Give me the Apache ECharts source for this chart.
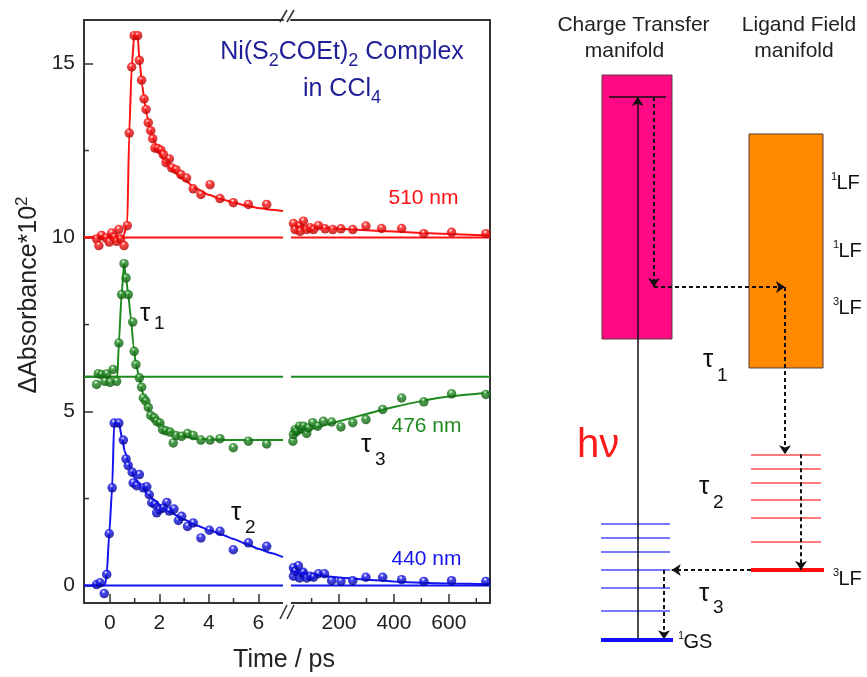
<!DOCTYPE html>
<html>
<head>
<meta charset="utf-8">
<script src="https://cdn.jsdelivr.net/npm/echarts@6/dist/echarts.min.js"></script>
<style>
  html, body { margin: 0; padding: 0; background: #fff; }
  #chart { width: 867px; height: 677px; }
</style>
</head>
<body>
<div id="chart"></div>
<script>
// ---------- transient absorption traces (ΔA*10^2, offsets included) ----------
// early-time window, time in ps
const red510Early = [[-0.54,9.96],[-0.45,9.77],[-0.34,10.06],[-0.16,9.99],[-0.03,9.87],[0.07,10.13],[0.18,10.01],[0.27,9.89],[0.36,10.23],[0.43,9.96],[0.57,9.77],[0.70,10.34],[0.78,13.0],[0.88,14.9],[0.98,15.8],[1.12,15.8],[1.19,15.09],[1.28,14.52],[1.38,13.98],[1.46,13.68],[1.55,13.30],[1.65,13.07],[1.73,12.84],[1.82,12.57],[1.93,12.56],[2.06,12.51],[2.16,12.38],[2.27,12.15],[2.40,12.26],[2.50,12.0],[2.67,11.95],[2.87,11.81],[3.10,11.71],[3.37,11.40],[3.68,11.24],[4.05,11.52],[4.45,11.12],[4.99,11.0],[5.60,10.95],[6.34,10.95]];
const red510EarlyFit = [[-1.05,10],[0.55,10.05],[0.7,10.4],[0.78,13.0],[0.88,14.9],[0.98,15.8],[1.12,15.8],[1.2,15.05],[1.3,14.4],[1.4,13.9],[1.5,13.5],[1.6,13.2],[1.8,12.75],[2.0,12.42],[2.25,12.15],[2.5,11.95],[3.0,11.65],[3.5,11.4],[4.0,11.23],[4.5,11.1],[5.0,11.01],[5.5,10.92],[6.0,10.85],[6.5,10.8],[7.0,10.76]];
const green476Early = [[-0.54,5.78],[-0.47,6.09],[-0.34,6.06],[-0.20,5.87],[-0.13,6.08],[0,5.84],[0.13,6.21],[0.27,5.87],[0.36,6.97],[0.47,8.36],[0.57,9.25],[0.65,8.84],[0.74,8.36],[0.92,7.57],[0.98,6.73],[1.05,6.35],[1.19,5.97],[1.28,5.70],[1.35,5.39],[1.45,5.30],[1.55,5.12],[1.65,4.89],[1.79,4.82],[1.89,4.72],[2.02,4.67],[2.13,4.48],[2.25,4.45],[2.43,4.41],[2.56,4.10],[2.67,4.31],[2.90,4.29],[3.14,4.37],[3.37,4.31],[3.68,4.18],[4.05,4.18],[4.45,4.22],[4.99,3.96],[5.60,4.15],[6.34,4.07]];
const green476EarlyFit = [[-1.05,6.0],[0.3,6.0],[0.36,6.97],[0.47,8.36],[0.57,9.25],[0.65,8.84],[0.74,8.36],[0.85,7.65],[0.95,6.9],[1.05,6.35],[1.2,5.95],[1.3,5.6],[1.4,5.35],[1.5,5.17],[1.6,5.0],[1.8,4.8],[2.0,4.65],[2.3,4.48],[2.6,4.37],[3.0,4.28],[3.5,4.22],[4.0,4.2],[5.0,4.18],[6.0,4.18],[7.0,4.18]];
const blue440Early = [[-0.54,0.03],[-0.40,0.08],[-0.23,-0.23],[-0.13,0.32],[-0.03,1.49],[0.09,2.81],[0.17,4.67],[0.36,4.67],[0.54,4.18],[0.65,3.64],[0.74,3.45],[0.90,3.26],[0.94,2.95],[1.08,2.87],[1.19,3.19],[1.35,2.81],[1.49,2.84],[1.59,2.61],[1.69,2.38],[1.82,2.33],[1.89,2.09],[2.00,2.18],[2.16,2.23],[2.30,2.39],[2.40,2.14],[2.59,2.20],[2.77,1.87],[2.90,1.99],[3.14,1.70],[3.37,1.80],[3.68,1.37],[4.02,1.59],[4.45,1.56],[4.99,1.03],[5.60,1.23],[6.34,1.13]];
const blue440EarlyFit = [[-1.05,0],[-0.2,0.02],[-0.13,0.32],[-0.03,1.49],[0.09,2.81],[0.17,4.67],[0.36,4.67],[0.5,4.2],[0.6,3.85],[0.8,3.42],[1.0,3.1],[1.25,2.88],[1.5,2.65],[1.75,2.48],[2.0,2.32],[2.5,2.08],[3.0,1.9],[3.5,1.73],[4.0,1.6],[4.5,1.47],[5.0,1.34],[5.5,1.2],[6.0,1.06],[6.5,0.94],[7.0,0.82]];

// late-time window, time in ps
const red510Late = [[34,10.40],[40,10.23],[56,10.33],[58,10.18],[70,10.47],[82,10.23],[95,10.28],[107,10.23],[125,10.34],[149,10.25],[177,10.23],[207,10.25],[250,10.23],[298,10.33],[355,10.26],[428,10.26],[509,10.11],[610,10.15],[735,10.11]];
const red510LateFit = [[28,10.33],[100,10.3],[200,10.25],[300,10.21],[400,10.17],[500,10.13],[600,10.1],[750,10.06]];
const green476Late = [[32,4.15],[34,4.34],[40,4.48],[46,4.43],[56,4.58],[64,4.50],[70,4.58],[82,4.37],[88,4.53],[104,4.68],[122,4.58],[143,4.72],[173,4.70],[207,4.56],[250,4.68],[298,4.77],[359,5.06],[428,5.39],[509,5.28],[610,5.51],[735,5.49]];
const green476LateFit = [[28,4.32],[100,4.5],[200,4.72],[300,4.93],[400,5.13],[500,5.3],[600,5.43],[750,5.55]];
const blue440Late = [[34,0.51],[34,0.27],[40,0.41],[52,0.57],[56,0.22],[64,0.34],[70,0.38],[82,0.22],[95,0.27],[107,0.24],[125,0.34],[147,0.34],[173,0.14],[207,0.12],[250,0.14],[298,0.24],[359,0.24],[428,0.17],[509,0.12],[610,0.14],[735,0.12]];
const blue440LateFit = [[28,0.42],[100,0.32],[200,0.23],[300,0.17],[400,0.12],[500,0.08],[600,0.06],[750,0.04]];

// zero levels of the offset traces
const base510 = 10, base476 = 6, base440 = 0;

// axis ranges and ticks
const X0_MIN = -1.05, X0_MAX = 7;
const X1_MIN = 25, X1_MAX = 750;
const Y_MIN = -0.5, Y_MAX = 16.25;
const xMajor0 = [0, 2, 4, 6], xMinor0 = [1, 3, 5];
const xMajor1 = [200, 400, 600], xMinor1 = [100, 300, 500, 700];
const yMajor = [0, 5, 10, 15], yMinor = [2.5, 7.5, 12.5];

// ---------- energy-level scheme (arbitrary energy units) ----------
const ctBand = [14, 37.33, 53.5, 97.5];            // [xFrom, xTo, eLow, eHigh]
const lfBand = [63, 87.67, 48.67, 87.67];
const ctExcited = { e: 93.83, x: [16.33, 35.33] };
const ctVibLevels = [22.72, 20.38, 18.12, 15, 12.12, 8.17];
const ctVibSpan = [13.67, 36.67];
const lfVibLevels = [34.28, 31.83, 29.55, 26.72, 23.72, 19.72];
const lfVibSpan = [63.67, 87];
const gsLevel = { e: 3.45, x: [13.67, 37.67] };
const lf3Level = { e: 15, x: [63.67, 88] };
const pumpArrow = [[25.9, 3.45], [25.9, 93.83]];
const relaxArrows = [
  [[31.33, 93.83], [31.33, 62.17]],
  [[31.33, 62.17], [75, 62.17]],
  [[75, 62.17], [75, 34.28]],
  [[80.33, 34.28], [80.33, 15]],
  [[63.67, 15], [37.23, 15]],
  [[34.67, 15], [34.67, 3.45]]
];

const FONT = '"Liberation Sans", Arial, Helvetica, sans-serif';
const AX = '#333333';
const RED = '#ff1212', GREEN = '#1f8a1f', BLUE = '#1414ee';

function ball(c, dark) {
  return {
    type: 'radial', x: 0.42, y: 0.3, r: 0.7,
    colorStops: [
      { offset: 0, color: '#ffffff' },
      { offset: 0.3, color: c },
      { offset: 1, color: dark }
    ]
  };
}

function trace(color, dark, early, earlyFit, late, lateFit, base) {
  const lineCommon = { type: 'line', showSymbol: false, symbol: 'none', z: 2, silent: true };
  return [
    Object.assign({}, lineCommon, { xAxisIndex: 0, yAxisIndex: 0, data: [[X0_MIN, base], [X0_MAX, base]], lineStyle: { color, width: 2 } }),
    Object.assign({}, lineCommon, { xAxisIndex: 0, yAxisIndex: 0, data: earlyFit, smooth: 0.2, smoothMonotone: 'x', lineStyle: { color, width: 2 } }),
    { type: 'scatter', xAxisIndex: 0, yAxisIndex: 0, data: early, symbolSize: 9.5, z: 3, itemStyle: { color: ball(color, dark) } },
    Object.assign({}, lineCommon, { xAxisIndex: 1, yAxisIndex: 1, data: [[X1_MIN, base], [X1_MAX, base]], lineStyle: { color, width: 2 } }),
    Object.assign({}, lineCommon, { xAxisIndex: 1, yAxisIndex: 1, data: lateFit, smooth: 0.2, lineStyle: { color, width: 2 } }),
    { type: 'scatter', xAxisIndex: 1, yAxisIndex: 1, data: late, symbolSize: 9.5, z: 3, itemStyle: { color: ball(color, dark) } }
  ];
}

// short inward ticks between the labelled ones
function minorTicks(xIdx, yIdx, values, vertical, fixed) {
  return {
    type: 'custom', xAxisIndex: xIdx, yAxisIndex: yIdx, silent: true, z: 4,
    data: values.map(v => [v]),
    renderItem: (params, api) => {
      const v = api.value(0);
      const p = vertical ? api.coord([v, fixed]) : api.coord([fixed, v]);
      const shape = vertical
        ? { x1: p[0], y1: p[1], x2: p[0], y2: p[1] - 5 }
        : { x1: p[0], y1: p[1], x2: p[0] + 5, y2: p[1] };
      return { type: 'line', shape, style: { stroke: AX, lineWidth: 1.5 } };
    }
  };
}

function bandSeries(band, color) {
  return {
    type: 'custom', xAxisIndex: 4, yAxisIndex: 2, silent: true, z: 1,
    data: [band],
    renderItem: (params, api) => {
      const p0 = api.coord([api.value(0), api.value(3)]);
      const p1 = api.coord([api.value(1), api.value(2)]);
      return {
        type: 'rect',
        shape: { x: p0[0], y: p0[1], width: p1[0] - p0[0], height: p1[1] - p0[1] },
        style: { fill: color, stroke: '#5a3a3a', lineWidth: 1 }
      };
    }
  };
}

function levelSeries(levels, span, color, width) {
  return {
    type: 'lines', coordinateSystem: 'cartesian2d', xAxisIndex: 4, yAxisIndex: 2,
    silent: true, z: 3, symbol: 'none',
    lineStyle: { color, width, opacity: 1 },
    data: levels.map(e => ({ coords: [[span[0], e], [span[1], e]] }))
  };
}

const series = [].concat(
  trace(RED, '#b00000', red510Early, red510EarlyFit, red510Late, red510LateFit, base510),
  trace(GREEN, '#0c550c', green476Early, green476EarlyFit, green476Late, green476LateFit, base476),
  trace(BLUE, '#00008a', blue440Early, blue440EarlyFit, blue440Late, blue440LateFit, base440),
  [
    minorTicks(0, 0, yMinor, false, X0_MIN),
    minorTicks(0, 0, xMinor0, true, Y_MIN),
    minorTicks(1, 1, xMinor1, true, Y_MIN),
    bandSeries(ctBand, '#ff0a84'),
    bandSeries(lfBand, '#ff8a00'),
    levelSeries(ctVibLevels, ctVibSpan, '#4a4aff', 1.5),
    levelSeries(lfVibLevels, lfVibSpan, '#ff5050', 1.5),
    levelSeries([gsLevel.e], gsLevel.x, '#1010ff', 4),
    levelSeries([lf3Level.e], lf3Level.x, '#ff1010', 4),
    levelSeries([ctExcited.e], ctExcited.x, '#111111', 1.5),
    {
      type: 'lines', coordinateSystem: 'cartesian2d', xAxisIndex: 4, yAxisIndex: 2,
      silent: true, z: 5, symbol: ['none', 'arrow'], symbolSize: 9,
      lineStyle: { color: '#111', width: 1.5, opacity: 1 },
      data: [{ coords: pumpArrow }]
    },
    {
      type: 'lines', coordinateSystem: 'cartesian2d', xAxisIndex: 4, yAxisIndex: 2,
      silent: true, z: 5, symbol: ['none', 'arrow'], symbolSize: 9,
      lineStyle: { color: '#111', width: 2, type: [4, 3], opacity: 1 },
      data: relaxArrows.map(c => ({ coords: c }))
    }
  ]
);

// text helpers: y is given as the alphabetic baseline
function txt(text, x, baseline, size, color, align) {
  return {
    type: 'text', x, y: baseline - 0.31 * size, z: 10, silent: true,
    style: { text, fontSize: size, fontFamily: FONT, fill: color || '#222', align: align || 'left', verticalAlign: 'middle' }
  };
}
function tau(x, baseline, idx, subLeft, subBaseline) {
  return [txt('τ', x, baseline, 26, '#111'), txt(idx, subLeft, subBaseline, 19, '#111')];
}
function supLabel(sup, main, x, baseline) {
  return [txt(sup, x, baseline - 10, 11, '#111'), txt(main, x + 5.5, baseline, 20, '#111')];
}

const texts = [].concat(
  [
    {
      type: 'text', x: 342, y: 52.25, z: 10, silent: true,
      style: {
        text: '{m|Ni(S}{s|2}{m|COEt)}{s|2}{m| Complex}',
        align: 'center', verticalAlign: 'middle',
        rich: {
          m: { fontSize: 25, lineHeight: 36, fontFamily: FONT, fill: '#1e1e96', verticalAlign: 'middle' },
          s: { fontSize: 18, lineHeight: 18, fontFamily: FONT, fill: '#1e1e96', verticalAlign: 'bottom' }
        }
      }
    },
    {
      type: 'text', x: 342, y: 89.25, z: 10, silent: true,
      style: {
        text: '{m|in CCl}{s|4}',
        align: 'center', verticalAlign: 'middle',
        rich: {
          m: { fontSize: 25, lineHeight: 36, fontFamily: FONT, fill: '#1e1e96', verticalAlign: 'middle' },
          s: { fontSize: 18, lineHeight: 18, fontFamily: FONT, fill: '#1e1e96', verticalAlign: 'bottom' }
        }
      }
    },
    {
      type: 'text', x: 29, y: 295, rotation: Math.PI / 2, z: 10, silent: true,
      style: {
        text: '{m|ΔAbsorbance*10}{p|2}',
        align: 'center', verticalAlign: 'middle',
        rich: {
          m: { fontSize: 25, lineHeight: 30, fontFamily: FONT, fill: '#222', verticalAlign: 'middle' },
          p: { fontSize: 17, lineHeight: 17, fontFamily: FONT, fill: '#222', verticalAlign: 'top' }
        }
      }
    },
    txt('Time / ps', 284, 668, 25, '#222', 'center'),
    txt('510 nm', 423.5, 204.5, 21, RED, 'center'),
    txt('476 nm', 426.5, 433, 21, GREEN, 'center'),
    txt('440 nm', 426.5, 566, 21, BLUE, 'center'),
    txt('Charge Transfer', 633.5, 32, 21, '#222', 'center'),
    txt('manifold', 624.5, 58, 21, '#222', 'center'),
    txt('Ligand Field', 799, 32, 21, '#222', 'center'),
    txt('manifold', 794, 58, 21, '#222', 'center'),
    txt('hν', 577, 458, 40, '#ff1a1a', 'left')
  ],
  tau(140, 322, '1', 154, 330),
  tau(231, 521, '2', 245, 534),
  tau(361, 453, '3', 375, 466),
  tau(703, 368, '1', 717, 382),
  tau(699, 495, '2', 713, 509),
  tau(699, 602, '3', 713, 614),
  supLabel('1', 'LF', 831, 190),
  supLabel('1', 'LF', 833, 258),
  supLabel('3', 'LF', 833, 315),
  supLabel('3', 'LF', 833, 586),
  supLabel('1', 'GS', 678, 649)
);

const axisLineStyle = { show: true, onZero: false, lineStyle: { color: AX, width: 2 } };
const labelStyle = { fontSize: 21, color: '#222', fontFamily: FONT };

const option = {
  animation: false,
  backgroundColor: '#ffffff',
  tooltip: { show: false },
  grid: [
    { left: 84, top: 20, width: 199, height: 583 },
    { left: 291, top: 20, width: 199, height: 583 },
    { left: 560, top: 60, width: 300, height: 600 }
  ],
  xAxis: [
    { gridIndex: 0, type: 'value', min: X0_MIN, max: X0_MAX, position: 'bottom',
      axisLine: axisLineStyle,
      axisTick: { show: true, inside: true, length: 9, customValues: xMajor0, lineStyle: { color: AX, width: 1.5 } },
      axisLabel: Object.assign({ customValues: xMajor0, margin: 10 }, labelStyle),
      splitLine: { show: false } },
    { gridIndex: 1, type: 'value', min: X1_MIN, max: X1_MAX, position: 'bottom',
      axisLine: axisLineStyle,
      axisTick: { show: true, inside: true, length: 9, customValues: xMajor1, lineStyle: { color: AX, width: 1.5 } },
      axisLabel: Object.assign({ customValues: xMajor1, margin: 10 }, labelStyle),
      splitLine: { show: false } },
    { gridIndex: 0, type: 'value', min: X0_MIN, max: X0_MAX, position: 'top',
      axisLine: axisLineStyle, axisTick: { show: false }, axisLabel: { show: false }, splitLine: { show: false } },
    { gridIndex: 1, type: 'value', min: X1_MIN, max: X1_MAX, position: 'top',
      axisLine: axisLineStyle, axisTick: { show: false }, axisLabel: { show: false }, splitLine: { show: false } },
    { gridIndex: 2, type: 'value', min: 0, max: 100, show: false }
  ],
  yAxis: [
    { gridIndex: 0, type: 'value', min: Y_MIN, max: Y_MAX, position: 'left',
      axisLine: axisLineStyle,
      axisTick: { show: true, inside: true, length: 9, customValues: yMajor, lineStyle: { color: AX, width: 1.5 } },
      axisLabel: Object.assign({ customValues: yMajor, margin: 9 }, labelStyle),
      splitLine: { show: false } },
    { gridIndex: 1, type: 'value', min: Y_MIN, max: Y_MAX, position: 'right',
      axisLine: axisLineStyle, axisTick: { show: false }, axisLabel: { show: false }, splitLine: { show: false } },
    { gridIndex: 2, type: 'value', min: 0, max: 100, show: false }
  ],
  series,
  graphic: texts
};

const chart = echarts.init(document.getElementById('chart'), null, { renderer: 'canvas' });
chart.setOption(option);

// axis-break marks between the two time windows
const xEnd0 = chart.convertToPixel({ xAxisIndex: 0 }, X0_MAX);
const xStart1 = chart.convertToPixel({ xAxisIndex: 1 }, X1_MIN);
const yTop = chart.convertToPixel({ yAxisIndex: 0 }, Y_MAX);
const yBottom = chart.convertToPixel({ yAxisIndex: 0 }, Y_MIN);
const mid = (xEnd0 + xStart1) / 2;
const slash = (cx, y0, y1) => ({
  type: 'line', z: 11, silent: true,
  shape: { x1: cx - 3.5, y1: y1, x2: cx + 3.5, y2: y0 },
  style: { stroke: AX, lineWidth: 1.6 }
});
const breakMarks = [
  { type: 'rect', z: 10, silent: true, shape: { x: xEnd0, y: yBottom - 2, width: xStart1 - xEnd0, height: 4 }, style: { fill: '#fff' } },
  slash(mid - 3.5, yTop - 10, yTop + 2),
  slash(mid + 3.5, yTop - 10, yTop + 2),
  slash(mid - 3.5, yBottom + 2, yBottom + 16),
  slash(mid + 3.5, yBottom + 2, yBottom + 16)
];
chart.setOption({ graphic: texts.concat(breakMarks) });
</script>
</body>
</html>
